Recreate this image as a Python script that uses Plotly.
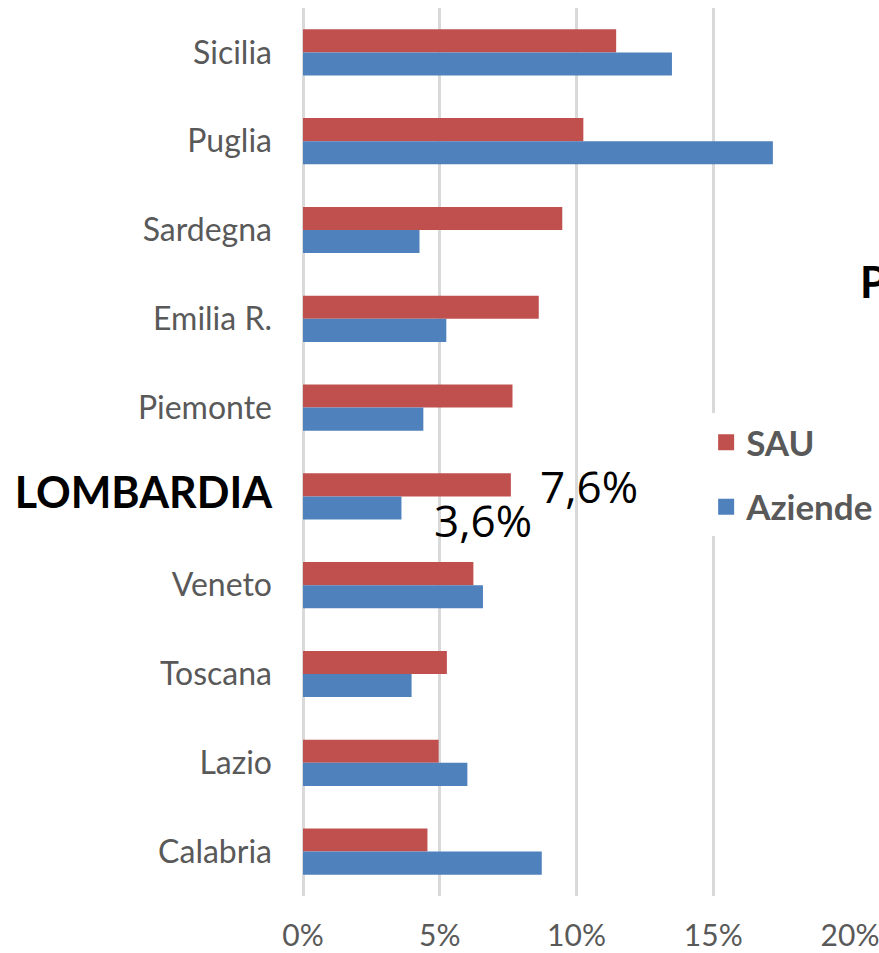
import plotly.graph_objects as go

regions = ["Sicilia", "Puglia", "Sardegna", "Emilia R.", "Piemonte", "Lombardia",
           "Veneto", "Toscana", "Lazio", "Calabria"]
sau = [11.45, 10.25, 9.48, 8.62, 7.66, 7.6, 6.23, 5.26, 4.96, 4.55]
aziende = [13.49, 17.18, 4.26, 5.24, 4.40, 3.6, 6.58, 3.97, 6.01, 8.73]
highlight = "Lombardia"
x_ticks = [0, 5, 10, 15, 20]
x_ticklabels = ["0%", "5%", "10%", "15%", "20%"]

RED = "#C0504D"
BLUE = "#4F81BD"
GRAY = "#595959"

ticktext = []
for r in regions:
    if r == highlight:
        ticktext.append('<span style="font-size:43px;color:#000000"><b>' + r.upper() + '</b></span>')
    else:
        ticktext.append(r)

fig = go.Figure()
fig.add_trace(go.Bar(y=regions, x=sau, orientation="h", name="SAU",
                     marker=dict(color=RED, line=dict(width=0)), showlegend=False))
fig.add_trace(go.Bar(y=regions, x=aziende, orientation="h", name="Aziende",
                     marker=dict(color=BLUE, line=dict(width=0)), showlegend=False))
# legend entries
fig.add_trace(go.Scatter(x=[None], y=[None], mode="markers", name="SAU", legendgroup="a",
                         marker=dict(symbol="square", size=22, color=RED)))
fig.add_trace(go.Scatter(x=[None], y=[None], mode="markers", name="Aziende", legendgroup="b",
                         marker=dict(symbol="square", size=22, color=BLUE)))

def fmt(v):
    return f"{v:.1f}".replace(".", ",") + "%"

hi = regions.index(highlight)
fig.add_annotation(x=sau[hi], y=regions[hi], text=fmt(sau[hi]), showarrow=False,
                   xanchor="left", yanchor="middle", xshift=27, yshift=10,
                   font=dict(family="Open Sans", size=44, color="#000000"))
fig.add_annotation(x=aziende[hi], y=regions[hi], text=fmt(aziende[hi]), showarrow=False,
                   xanchor="left", yanchor="middle", xshift=31, yshift=-24,
                   font=dict(family="Open Sans", size=44, color="#000000"))
fig.add_annotation(x=1.015, y=0.692, xref="paper", yref="paper", text="<b>P</b>",
                   showarrow=False, xanchor="left", yanchor="middle",
                   font=dict(family="Lato", size=43, color="#000000"))

fig.update_layout(
    width=879, height=953,
    margin=dict(l=303, r=29, t=8, b=57, autoexpand=False),
    paper_bgcolor="white", plot_bgcolor="white",
    barmode="group", bargap=0.48, bargroupgap=0,
    font=dict(family="Lato", size=30, color=GRAY),
    legend=dict(x=0.737, y=0.544, xanchor="left", yanchor="top",
                bgcolor="white", font=dict(family="Lato", size=35, color=GRAY, weight="bold"),
                tracegroupgap=16, itemsizing="trace"),
    xaxis=dict(range=[0, 20], tickvals=x_ticks, ticktext=x_ticklabels,
               showgrid=True, gridcolor="#D9D9D9", gridwidth=2.5,
               zeroline=True, zerolinecolor="#D9D9D9", zerolinewidth=2.5,
               ticks="", ticklabelstandoff=19, fixedrange=True, automargin=False,
               ticklabeloverflow="allow", tickfont=dict(size=30)),
    yaxis=dict(categoryorder="array", categoryarray=regions, autorange="reversed",
               tickvals=regions, ticktext=ticktext, showgrid=False, ticks="",
               ticklabelstandoff=30, fixedrange=True, automargin=False,
               tickfont=dict(size=32)),
)

fig.write_html("out.html", config={"displayModeBar": False},
               post_script="document.body.style.margin='0px';document.body.style.overflow='hidden';")
